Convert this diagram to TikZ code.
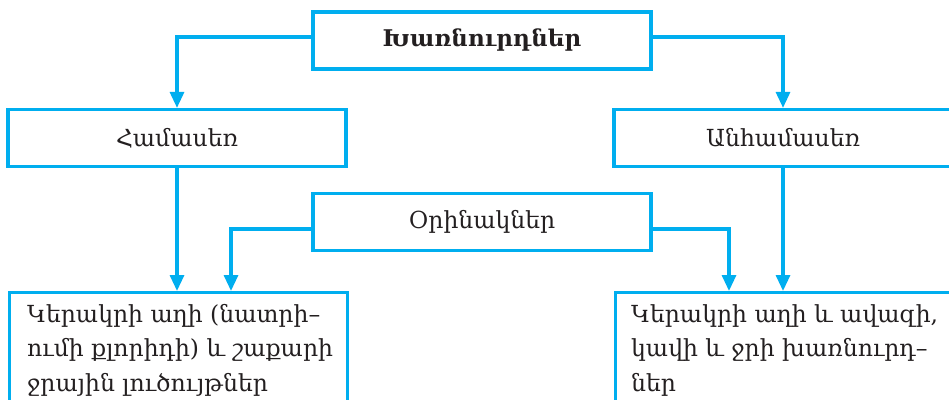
\documentclass[tikz,border=0pt]{standalone}
\usepackage{fontspec}
\setmainfont{DejaVu Serif}
\usetikzlibrary{arrows.meta}
\definecolor{flowblue}{HTML}{00AEEF}
\definecolor{inkgray}{HTML}{231F20}
\begin{document}
\begin{tikzpicture}[x=1pt,y=1pt,
  box/.style={draw=flowblue, line width=3.2pt, minimum width=338pt,
    minimum height=57pt, inner sep=0pt, text=inkgray,
    font=\fontsize{23.5}{28}\selectfont},
  tallbox/.style={draw=flowblue, line width=3.2pt, minimum width=338pt,
    minimum height=130pt, inner sep=0pt, anchor=north west},
  bodytext/.style={anchor=north west, align=left, inner sep=0pt,
    text=inkgray, font=\fontsize{23.5}{34.5}\selectfont},
  link/.style={draw=flowblue, line width=3.2pt,
    -{Triangle[width=14pt,length=16pt]}}]
  \clip (0,0) rectangle (949,399);
  \useasboundingbox (0,0) rectangle (949,399);
  \fill[white] (0,0) rectangle (949,399);

  % category boxes
  \node[box, font=\fontsize{23}{28}\selectfont\bfseries] (mix) at (482,358.5) {Խառնուրդներ};
  \node[box] (homo) at (177,261) {Համասեռ};
  \node[box] (hetero) at (783,261) {Անհամասեռ};
  \node[box] (ex) at (482,177) {Օրինակներ};

  % example boxes
  \node[tallbox] (exl) at (8,108) {};
  \node[tallbox] (exr) at (614,108) {};
  \node[bodytext] (exltxt) at (27,95) {Կերակրի աղի (նատրի–\\ումի քլորիդի) և շաքարի\\ջրային լուծույթներ};
  \node[bodytext] (exrtxt) at (631,95) {Կերակրի աղի և ավազի,\\կավի և ջրի խառնուրդ–\\ներ};

  % arrow entry points on the example boxes
  \coordinate (exlin) at (231,108);
  \coordinate (exrin) at (729,108);

  % connectors
  \draw[link] ([yshift=3.5pt]mix.west) -| (homo.north);
  \draw[link] ([yshift=3.5pt]mix.east) -| (hetero.north);
  \draw[link] (homo.south) -- (homo.south |- exl.north);
  \draw[link] (hetero.south) -- (hetero.south |- exr.north);
  \draw[link] ([yshift=-7pt]ex.west) -| (exlin);
  \draw[link] ([yshift=-7pt]ex.east) -| (exrin);
\end{tikzpicture}
\end{document}
